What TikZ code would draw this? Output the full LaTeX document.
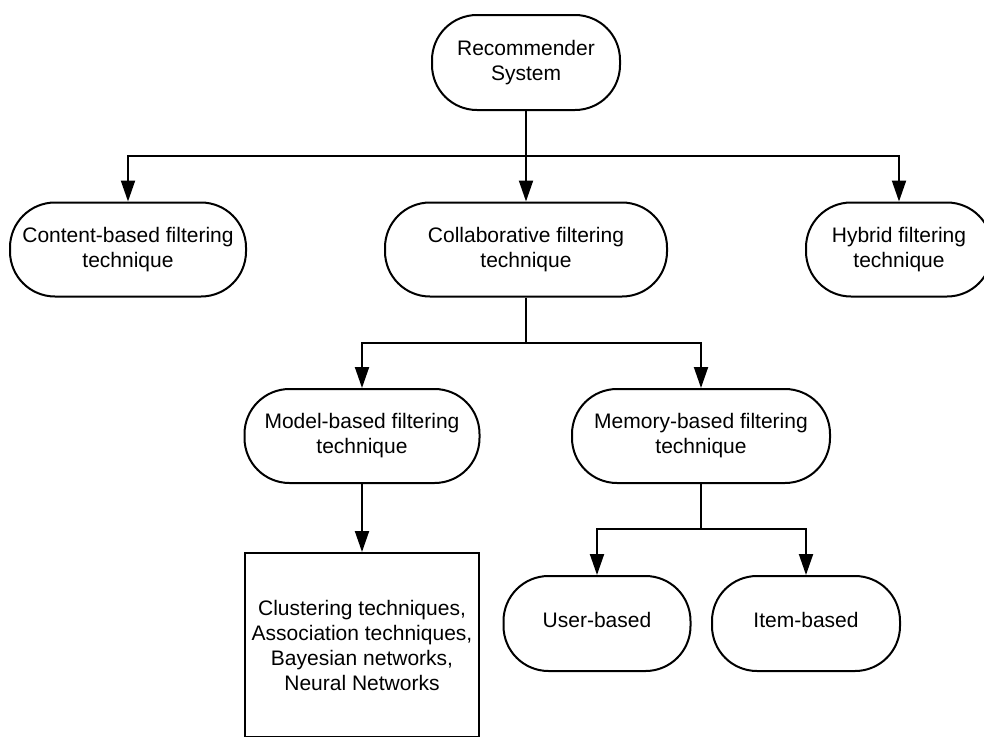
\documentclass[tikz,border=0pt]{standalone}
\usepackage{fontspec}
\setmainfont{Liberation Sans}
\usetikzlibrary{arrows.meta}
\begin{document}
\begin{tikzpicture}[x=1pt,y=-1pt,
  base/.style={draw=black, line width=2pt, align=center, inner sep=0pt,
    font=\fontsize{21}{25}\selectfont},
  term/.style={base, rectangle, rounded corners=45pt, minimum height=94pt},
  boxr/.style={base, rectangle},
  conn/.style={line width=2pt, draw=black},
  arr/.style={conn, -{Triangle[length=21pt,width=14pt]}}
]
\useasboundingbox (0,0) rectangle (984,736);
\node[term, minimum width=188pt, minimum height=95pt] (rs) at (526,62.5) {Recommender\\System};
\node[term, minimum width=236pt] (cb) at (128,249.5) {Content-based filtering\\technique};
\node[term, minimum width=282pt] (cf) at (526,249.5) {Collaborative filtering\\technique};
\node[term, minimum width=186pt] (hy) at (899,249.5) {Hybrid filtering\\technique};
\node[term, minimum width=235pt] (mb) at (362,436) {Model-based filtering\\technique};
\node[term, minimum width=258pt] (me) at (701,436) {Memory-based filtering\\technique};
\node[boxr, minimum width=234pt, minimum height=184pt] (tech) at (362,645) {Clustering techniques,\\Association techniques,\\Bayesian networks,\\Neural Networks};
\node[term, minimum width=187pt, minimum height=95pt, text depth=7pt] (ub) at (597,623.5) {User-based};
\node[term, minimum width=188pt, minimum height=95pt, text depth=7pt] (ib) at (806,623.5) {Item-based};
\coordinate (j1) at (526,156);
\coordinate (j2) at (526,343);
\coordinate (j3) at (701,529);
\draw[conn] (rs) -- (j1);
\draw[arr] (j1) -| (cb);
\draw[arr] (j1) -- (cf);
\draw[arr] (j1) -| (hy);
\draw[conn] (cf) -- (j2);
\draw[arr] (j2) -| (mb);
\draw[arr] (j2) -| (me);
\draw[arr] (mb) -- (tech);
\draw[conn] (me) -- (j3);
\draw[arr] (j3) -| (ub);
\draw[arr] (j3) -| (ib);
\end{tikzpicture}
\end{document}
